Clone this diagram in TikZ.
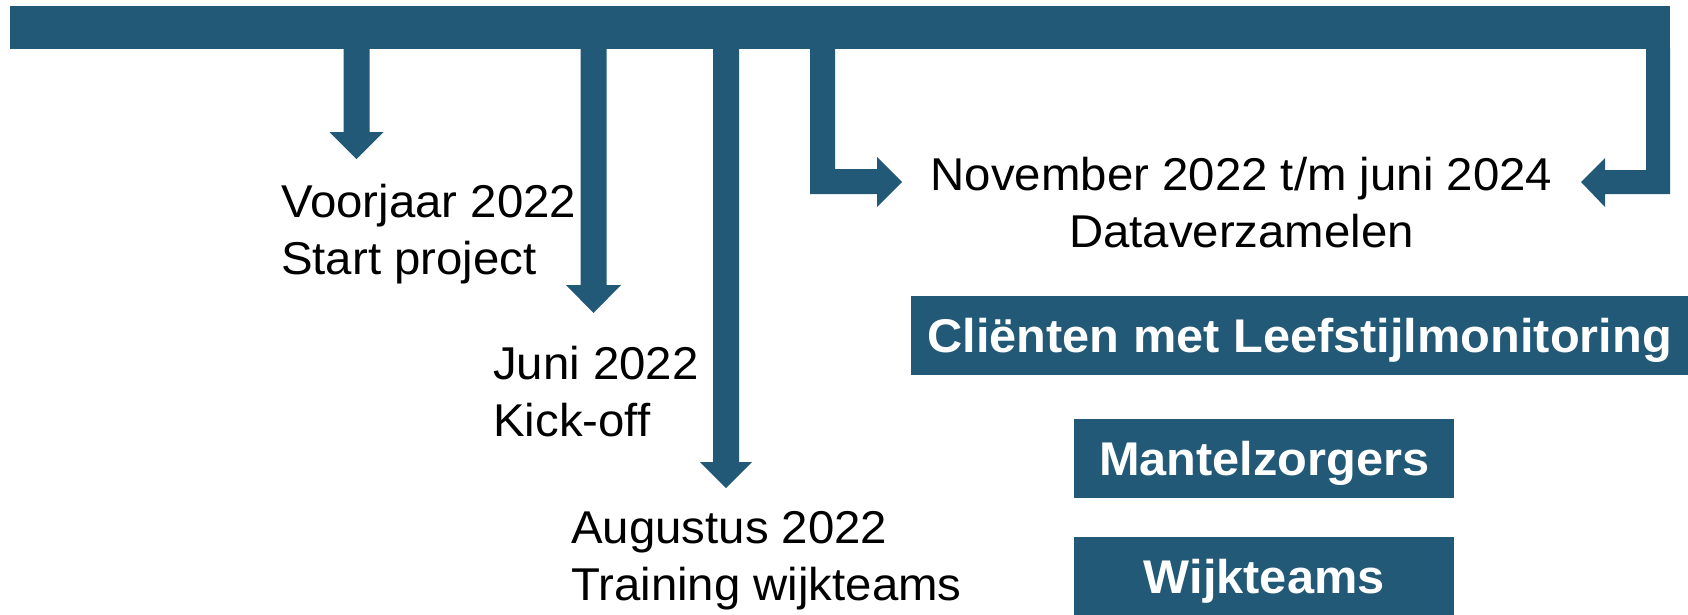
\documentclass[tikz,border=0pt]{standalone}
\usepackage{fontspec}
\setmainfont{Liberation Sans}[FakeStretch=1.03]
\definecolor{teal}{RGB}{34,89,119}
\begin{document}
\begin{tikzpicture}[x=1pt,y=-1pt,
  lbl/.style={inner sep=0pt,font=\fontsize{46}{57}\selectfont,text=black},
  tag/.style={fill=teal,text=white,inner sep=0pt,text height=56pt,text depth=23pt,
    font=\fontsize{47.3}{56}\selectfont\bfseries},
  arrowshape/.style={fill=teal}]
\useasboundingbox (0,0) rectangle (1688,614);
% timeline bar
\fill[arrowshape] (10,6) rectangle (1670,49);
% arrow 1
\fill[arrowshape] (343.5,48) -- (369.5,48) -- (369.5,132) -- (383.5,132) -- (356.5,159)
  -- (329.5,132) -- (343.5,132) -- cycle;
% arrow 2
\fill[arrowshape] (580.5,48) -- (606.5,48) -- (606.5,285) -- (621,285) -- (593.5,313)
  -- (566,285) -- (580.5,285) -- cycle;
% arrow 3
\fill[arrowshape] (713,48) -- (739,48) -- (739,462) -- (752,462) -- (726,488)
  -- (700,462) -- (713,462) -- cycle;
% left bracket arrow
\fill[arrowshape] (810,48) -- (835,48) -- (835,169) -- (877,169) -- (877,157) -- (902,182)
  -- (877,207) -- (877,194) -- (810,194) -- cycle;
% right bracket arrow
\fill[arrowshape] (1670,48) -- (1646,48) -- (1646,170) -- (1605,170) -- (1605,158) -- (1581,182)
  -- (1605,207) -- (1605,194) -- (1670,194) -- cycle;
% labels (base anchor = baseline of the last line)
\node[lbl,anchor=base west,align=left] (voorjaar) at (281,274) {Voorjaar 2022\\Start project};
\node[lbl,anchor=base west,align=left] (juni) at (493,436) {Juni 2022\\Kick-off};
\node[lbl,anchor=base west,align=left] (aug) at (571,600) {Augustus 2022\\Training wijkteams};
\node[lbl,anchor=base,align=center] (nov) at (1241.5,247) {November 2022 t/m juni 2024\\Dataverzamelen};
% boxes
\node[tag,anchor=north west,minimum width=777pt] (clienten) at (911,296) {Cliënten met Leefstijlmonitoring};
\node[tag,anchor=north west,minimum width=380pt] (mantel) at (1074,419) {Mantelzorgers};
\node[tag,anchor=north west,minimum width=380pt] (wijk) at (1074,537) {Wijkteams};
\end{tikzpicture}
\end{document}
